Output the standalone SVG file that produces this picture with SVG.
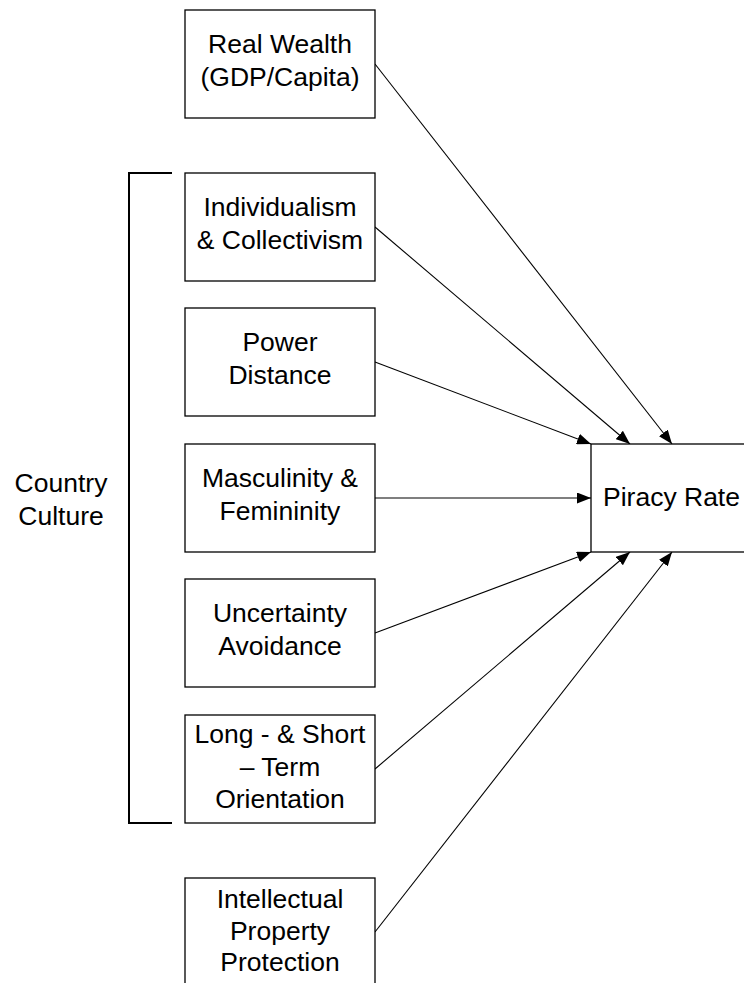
<svg xmlns="http://www.w3.org/2000/svg" width="744" height="983" viewBox="0 0 744 983">
<style>
.box{fill:#fff;stroke:#000;stroke-width:1.3}
.t{font-family:"Liberation Sans",Arial,sans-serif;font-size:26.5px;fill:#000;text-anchor:middle}
.c{stroke:#000;stroke-width:1.1;fill:none;marker-end:url(#ah)}
.br{stroke:#000;stroke-width:2;fill:none}
</style>
<defs>
<marker id="ah" markerUnits="userSpaceOnUse" markerWidth="14" markerHeight="11" viewBox="0 0 14 11" refX="14" refY="5.5" orient="auto">
<path d="M0,0 L14,5.5 L0,11 Z" fill="#000"/>
</marker>
</defs>
<rect width="744" height="983" fill="#fff"/>
<g id="connectors">
<line class="c" x1="375" y1="64" x2="672" y2="444"/>
<line class="c" x1="375" y1="227" x2="630" y2="444"/>
<line class="c" x1="375" y1="362" x2="591" y2="444"/>
<line class="c" x1="375" y1="498" x2="591" y2="498"/>
<line class="c" x1="375" y1="633" x2="591" y2="552"/>
<line class="c" x1="375" y1="769" x2="630" y2="552"/>
<line class="c" x1="375" y1="932" x2="672" y2="552"/>
</g>
<g id="bracket">
<path class="br" d="M172,173 H129 V823 H172"/>
</g>
<g id="country-culture">
<text class="t" x="61" y="492">Country</text>
<text class="t" x="61" y="525">Culture</text>
</g>
<g id="real-wealth">
<rect class="box" x="185" y="10" width="190" height="108"/>
<text class="t" x="280" y="53">Real Wealth</text>
<text class="t" x="280" y="86">(GDP/Capita)</text>
</g>
<g id="individualism">
<rect class="box" x="185" y="173" width="190" height="108"/>
<text class="t" x="280" y="216">Individualism</text>
<text class="t" x="280" y="249">&amp; Collectivism</text>
</g>
<g id="power-distance">
<rect class="box" x="185" y="308" width="190" height="108"/>
<text class="t" x="280" y="351">Power</text>
<text class="t" x="280" y="384">Distance</text>
</g>
<g id="masculinity">
<rect class="box" x="185" y="444" width="190" height="108"/>
<text class="t" x="280" y="487">Masculinity &amp;</text>
<text class="t" x="280" y="520">Femininity</text>
</g>
<g id="uncertainty">
<rect class="box" x="185" y="579" width="190" height="108"/>
<text class="t" x="280" y="622">Uncertainty</text>
<text class="t" x="280" y="655">Avoidance</text>
</g>
<g id="long-short">
<rect class="box" x="185" y="715" width="190" height="108"/>
<text class="t" x="280" y="743">Long - &amp; Short</text>
<text class="t" x="280" y="776">– Term</text>
<text class="t" x="280" y="808">Orientation</text>
</g>
<g id="ipp">
<rect class="box" x="185" y="878" width="190" height="120"/>
<text class="t" x="280" y="908">Intellectual</text>
<text class="t" x="280" y="940">Property</text>
<text class="t" x="280" y="971">Protection</text>
</g>
<g id="piracy-rate">
<rect class="box" x="591" y="444" width="170" height="108"/>
<text class="t" x="603" y="506" style="text-anchor:start">Piracy Rate</text>
</g>
</svg>
